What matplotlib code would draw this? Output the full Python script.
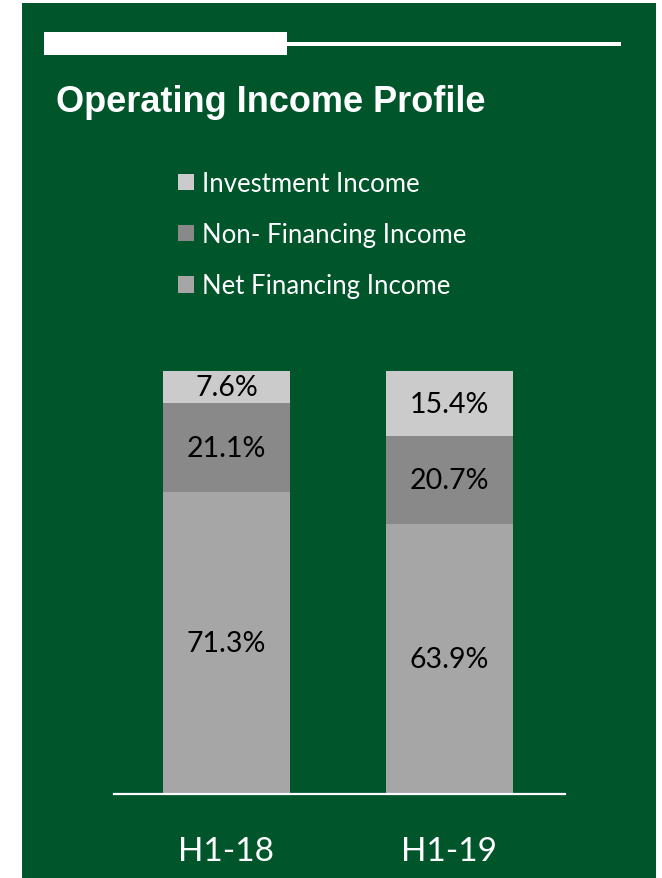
import matplotlib
matplotlib.use("Agg")
from matplotlib import pyplot as plt
from matplotlib.patches import Rectangle

# operating income mix, % of total
periods = ["H1-18", "H1-19"]
net_financing = [71.3, 63.9]
non_financing = [21.1, 20.7]
investment = [7.6, 15.4]

GREEN = "#00552B"
W, H = 662, 879


def px(x, y):
    # pixel position (from top-left) -> figure fraction
    return x / W, 1 - y / H


fig = plt.figure(figsize=(W / 100, H / 100), dpi=100)
fig.patch.set_facecolor("white")

# green panel and the white rule at the top
fig.add_artist(Rectangle((22 / W, 0), (656 - 22) / W, (H - 4) / H,
                         transform=fig.transFigure, facecolor=GREEN, edgecolor="none", zorder=0))
fig.add_artist(Rectangle((44 / W, 1 - 56 / H), (287 - 44) / W, 23 / H,
                         transform=fig.transFigure, facecolor="white", edgecolor="none"))
fig.add_artist(Rectangle((287 / W, 1 - 47 / H), (621 - 287) / W, 4.5 / H,
                         transform=fig.transFigure, facecolor="white", edgecolor="none"))

fig.text(*px(56, 103), "Operating Income Profile", color="white", fontsize=26,
         fontweight="bold", family="Liberation Sans", ha="left", va="center")

ax = fig.add_axes([114 / W, 1 - 795 / H, (565 - 114) / W, (795 - 372) / H])
ax.set_facecolor("none")

x = range(len(periods))
bw = 0.57
b1 = ax.bar(x, net_financing, bw, color="#A6A6A6", label="Net Financing Income")
b2 = ax.bar(x, non_financing, bw, bottom=net_financing, color="#898989",
            label="Non- Financing Income")
base = [a + b for a, b in zip(net_financing, non_financing)]
b3 = ax.bar(x, investment, bw, bottom=base, color="#CBCBCB", label="Investment Income")

for bars, vals, bottoms in [(b1, net_financing, [0, 0]), (b2, non_financing, net_financing),
                            (b3, investment, base)]:
    for rect, v, b in zip(bars, vals, bottoms):
        ax.text(rect.get_x() + rect.get_width() / 2, b + v / 2, f"{v:.1f}%",
                ha="center", va="center", fontsize=20.5, family="Lato", color="black")

ax.set_xlim(-0.505, 1.52)
ax.set_ylim(0, 100)
ax.set_xticks(list(x))
ax.set_xticklabels(periods, fontsize=24, family="Lato", color="white")
ax.tick_params(axis="x", length=0, pad=30)
ax.set_yticks([])
for s in ["top", "left", "right"]:
    ax.spines[s].set_visible(False)
ax.spines["bottom"].set_color("white")
ax.spines["bottom"].set_linewidth(1.6)

leg = fig.legend([b3, b2, b1], ["Investment Income", "Non- Financing Income", "Net Financing Income"],
                 loc="upper left", bbox_to_anchor=px(178, 172), frameon=False,
                 prop={"family": "Lato", "size": 18.5}, labelcolor="white",
                 handlelength=0.62, handleheight=0.62, handletextpad=0.3,
                 labelspacing=1.02, borderpad=0, borderaxespad=0)

fig.savefig("out.png", dpi=100, facecolor=fig.get_facecolor())
